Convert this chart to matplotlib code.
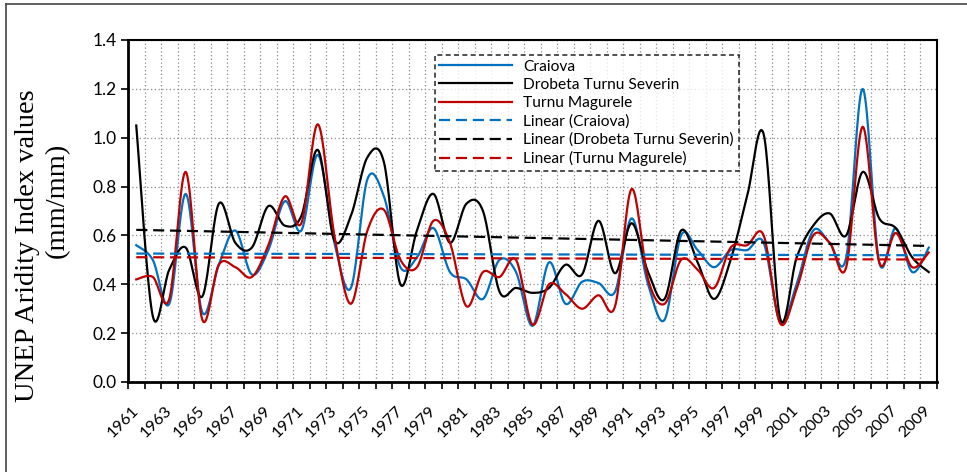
"""UNEP aridity index at three Oltenia stations, 1961-2009, Excel-style smoothed lines."""

import matplotlib
matplotlib.use("Agg")
import matplotlib.pyplot as plt
import numpy as np
from matplotlib.lines import Line2D

years = list(range(1961, 2010))

craiova = [0.56, 0.50, 0.32, 0.77, 0.285, 0.48, 0.62, 0.44, 0.54, 0.74,
           0.62, 0.93, 0.57, 0.385, 0.83, 0.76, 0.47, 0.51, 0.63, 0.45,
           0.42, 0.34, 0.50, 0.45, 0.23, 0.49, 0.32, 0.41, 0.405, 0.37,
           0.67, 0.40, 0.255, 0.60, 0.54, 0.47, 0.54, 0.54, 0.57, 0.245,
           0.40, 0.62, 0.57, 0.51, 1.20, 0.49, 0.63, 0.45, 0.55]

drobeta = [1.05, 0.27, 0.46, 0.55, 0.35, 0.73, 0.57, 0.55, 0.72, 0.64,
           0.68, 0.95, 0.58, 0.68, 0.92, 0.90, 0.40, 0.62, 0.77, 0.57,
           0.73, 0.70, 0.37, 0.385, 0.365, 0.385, 0.48, 0.44, 0.66, 0.445,
           0.65, 0.45, 0.34, 0.62, 0.49, 0.34, 0.50, 0.76, 1.015, 0.26,
           0.51, 0.64, 0.69, 0.60, 0.86, 0.67, 0.63, 0.51, 0.45]

turnu = [0.42, 0.43, 0.34, 0.86, 0.255, 0.48, 0.47, 0.43, 0.56, 0.76,
         0.65, 1.055, 0.60, 0.32, 0.62, 0.705, 0.50, 0.47, 0.66, 0.57,
         0.31, 0.45, 0.43, 0.50, 0.235, 0.40, 0.36, 0.30, 0.355, 0.31,
         0.79, 0.42, 0.32, 0.50, 0.46, 0.385, 0.55, 0.56, 0.60, 0.24,
         0.38, 0.60, 0.57, 0.47, 1.045, 0.49, 0.61, 0.47, 0.53]

series_names = ["Craiova", "Drobeta Turnu Severin", "Turnu Magurele"]
yticks = [0.0, 0.2, 0.4, 0.6, 0.8, 1.0, 1.2, 1.4]

BLUE = "#0070C0"
BLACK = "#000000"
RED = "#C00000"


def smooth(x, y, n=20):
    """Excel-like smoothed line: Bezier segments with Catmull-Rom control points."""
    x = np.asarray(x, float)
    y = np.asarray(y, float)
    px = np.concatenate([[x[0]], x, [x[-1]]])
    py = np.concatenate([[y[0]], y, [y[-1]]])
    t = np.linspace(0, 1, n, endpoint=False)[:, None]
    out_x, out_y = [], []
    for i in range(1, len(px) - 2):
        p0 = np.array([px[i], py[i]])
        p3 = np.array([px[i + 1], py[i + 1]])
        c1 = p0 + (np.array([px[i + 1], py[i + 1]]) - np.array([px[i - 1], py[i - 1]])) / 6
        c2 = p3 - (np.array([px[i + 2], py[i + 2]]) - np.array([px[i], py[i]])) / 6
        pts = ((1 - t) ** 3) * p0 + 3 * ((1 - t) ** 2) * t * c1 + 3 * (1 - t) * t ** 2 * c2 + t ** 3 * p3
        out_x.append(pts[:, 0])
        out_y.append(pts[:, 1])
    out_x.append([x[-1]])
    out_y.append([y[-1]])
    return np.concatenate(out_x), np.concatenate(out_y)


plt.rcParams["font.family"] = ["Lato", "DejaVu Sans"]

fig = plt.figure(figsize=(9.67, 4.72), dpi=100)
ax = fig.add_axes([128 / 967, 1 - 382 / 472, 809 / 967, 342 / 472])

idx = np.arange(len(years))
for values, color, name in zip([craiova, drobeta, turnu], [BLUE, BLACK, RED], series_names):
    sx, sy = smooth(idx, values)
    ax.plot(sx, sy, color=color, lw=1.6, label=name, zorder=3)

for values, color, name in zip([craiova, drobeta, turnu], [BLUE, BLACK, RED], series_names):
    slope, icpt = np.polyfit(idx, values, 1)
    ax.plot(idx, slope * idx + icpt, color=color, lw=1.6, ls=(0, (5, 2.6)),
            label=f"Linear ({name})", zorder=4)

ax.set_xlim(-0.5, len(years) - 0.5)
ax.set_ylim(0, 1.4)
ax.set_yticks(yticks)
ax.set_yticklabels([f"{v:.1f}" for v in yticks], fontsize=12.5)

ax.set_xticks(np.arange(-0.5, len(years)), minor=True)
ax.set_xticks(idx[::2])
ax.set_xticklabels([str(y) for y in years[::2]], rotation=45, ha="right",
                   va="center", rotation_mode="anchor", fontsize=11.8)
ax.tick_params(axis="x", which="major", length=0, pad=19)
ax.tick_params(axis="x", which="minor", length=5, width=1.2, direction="out")
ax.tick_params(axis="y", length=5, width=1.2, direction="out", pad=3)

ax.grid(True, axis="x", which="minor", color="#8c8c8c", ls=(0, (1, 2)), lw=0.9)
ax.grid(True, axis="y", which="major", color="#8c8c8c", ls=(0, (1, 2)), lw=0.9)
ax.set_axisbelow(True)

for side in ["left", "bottom"]:
    ax.spines[side].set_linewidth(2)
for side in ["top", "right"]:
    ax.spines[side].set_linewidth(1.5)

leg = ax.legend(loc="upper left", bbox_to_anchor=(0.379, 0.956), fontsize=11.2,
                frameon=True, fancybox=False, handlelength=4.7, handletextpad=0.7,
                borderpad=0.3, labelspacing=0.27, borderaxespad=0)
leg.get_frame().set_edgecolor("black")
leg.get_frame().set_linestyle((0, (3, 2)))
leg.get_frame().set_linewidth(1.2)
leg.set_zorder(10)

fig.text(28 / 967, 1 - 246 / 472, "UNEP Aridity Index values", rotation=90,
         ha="center", va="center", family="Liberation Serif", fontsize=20.5)
fig.text(57 / 967, 1 - 200 / 472, "(mm/mm)", rotation=90,
         ha="center", va="center", family="Liberation Serif", fontsize=20.5)

# outer chart-area border (top and left edges visible in the crop)
fig.add_artist(Line2D([6 / 967, 1], [1 - 4 / 472, 1 - 4 / 472], color="#444444", lw=1.2))
fig.add_artist(Line2D([6 / 967, 6 / 967], [0, 1 - 4 / 472], color="#444444", lw=1.2))

fig.savefig("out.png", dpi=100)
